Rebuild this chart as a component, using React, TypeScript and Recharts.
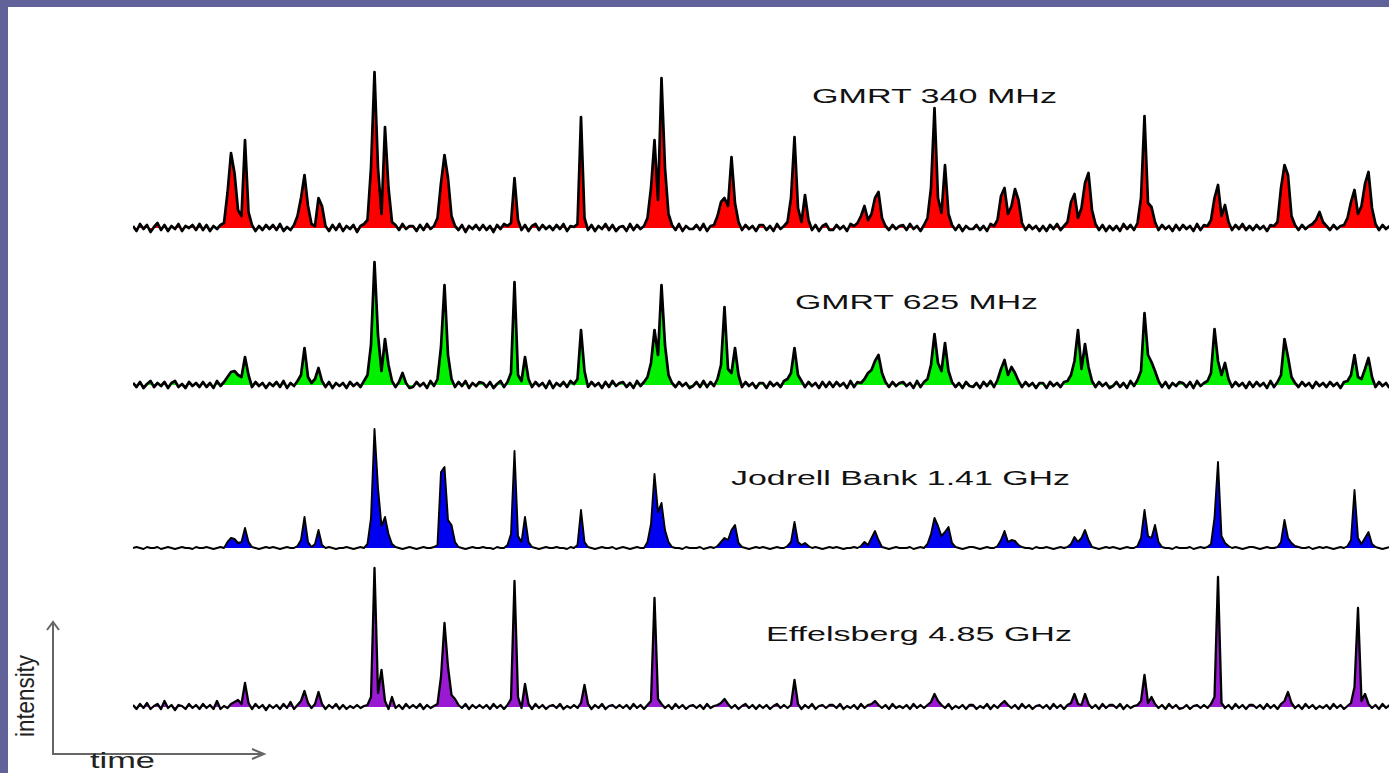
import React from 'react';
import { AreaChart, Area, XAxis, YAxis } from 'recharts';

// Single-pulse intensity, one row per pulse period, 20 samples per period.
// Values are in arbitrary intensity units above the off-pulse baseline.
const GMRT_340_ROWS: number[][] = [
  [2, -3, 4, -1, 3, -4, 1, 5, -2, 3, -3, 2, -1, 4, -3, 2, 0, 3, -2, 4],
  [-2, 3, -3, 2, -1, 3, 5, 35, 75, 55, 18, 12, 88, 16, 3, -3, 2, -2, 3, -1],
  [3, -2, 4, -3, 1, -2, 3, 12, 30, 53, 22, 4, 2, 30, 22, 2, -3, 3, -2, 4],
  [-3, 2, -1, 3, -4, 2, 4, 8, 60, 156, 60, 14, 101, 40, 6, 3, -2, 4, -1, 2],
  [2, -3, 3, -2, 4, -1, 2, 10, 45, 73, 50, 12, 2, -2, 3, -4, 2, -1, 3, -2],
  [3, -2, 2, -4, 3, -1, 4, 2, 5, 50, 8, -2, 3, -3, 2, 4, -2, 3, -1, 2],
  [-2, 3, -1, 4, -3, 2, 1, 4, 111, 10, -2, 3, -3, 2, -1, 4, -2, 3, -3, 1],
  [2, -3, 4, -2, 3, -1, 2, 10, 40, 88, 28, 150, 60, 14, 3, -2, 4, -3, 2, -1],
  [-1, 3, -2, 4, -3, 2, 3, 12, 26, 30, 22, 71, 25, 6, -2, 3, -1, 2, -3, 3],
  [3, -2, 2, -3, 4, -1, 2, 6, 30, 91, 20, 6, 33, 8, -2, 3, -3, 2, 4, -2],
  [-2, 3, -1, 2, -3, 4, 2, 5, 12, 22, 8, 14, 30, 36, 10, 2, -2, 3, -1, 2],
  [3, -2, 4, -1, 2, -3, 3, 10, 40, 120, 30, 15, 63, 14, 3, -2, 3, -3, 2, -1],
  [-1, 3, -2, 2, -3, 4, 2, 8, 32, 40, 14, 22, 39, 28, 5, -2, 3, -1, 2, -3],
  [2, -3, 3, -1, 4, -2, 2, 6, 26, 34, 10, 20, 45, 55, 18, 4, -2, 3, -3, 2],
  [-2, 2, -3, 4, -1, 3, -2, 5, 30, 112, 25, 21, 6, -2, 3, -1, 2, -3, 3, -2],
  [3, -1, 2, -3, 4, -2, 3, 2, 8, 30, 43, 12, 23, 6, -2, 3, -1, 4, -2, 2],
  [-2, 3, -1, 2, -3, 3, 2, 6, 40, 63, 53, 12, 3, -2, 3, -1, 2, 4, 8, 16],
  [6, 2, -2, 3, -1, 2, 3, 10, 26, 38, 14, 22, 44, 56, 20, 4, -2, 3, -1, 2],
];

const GMRT_625_ROWS: number[][] = [
  [2, -2, 3, -3, 1, 4, -2, 2, -1, 3, -3, 2, 4, -2, 1, -3, 3, -1, 2, -2],
  [3, -2, 2, -3, 4, -1, 3, 8, 13, 14, 10, 8, 28, 10, -2, 3, -1, 2, -3, 2],
  [-1, 3, -2, 4, -3, 2, -1, 4, 10, 37, 8, 2, 6, 17, 4, -2, 3, -3, 2, -1],
  [2, -3, 3, -1, 2, -2, 4, 10, 40, 123, 50, 14, 46, 20, 4, -2, 3, 12, 2, -3],
  [-2, 3, -1, 2, -3, 4, -1, 6, 38, 100, 30, 6, -2, 3, -1, 4, -3, 2, -1, 3],
  [2, -2, 3, -3, 1, 4, -2, 3, 12, 103, 10, 4, 28, 6, -2, 3, -1, 2, -3, 4],
  [-3, 2, -1, 3, -2, 4, 1, 6, 55, 14, -2, 3, -1, 2, -3, 3, -2, 4, -1, 2],
  [3, -2, 2, -3, 4, -1, 3, 8, 22, 55, 30, 100, 40, 10, 2, -2, 3, -1, 2, -3],
  [-1, 3, -2, 4, -2, 3, -1, 6, 20, 78, 16, 12, 37, 10, -2, 3, -1, 2, -3, 2],
  [2, -3, 3, -1, 2, -2, 4, 6, 12, 37, 10, 4, -2, 3, -1, 2, -3, 3, -2, 3],
  [-2, 3, -1, 2, -3, 4, -2, 3, 2, 6, 12, 15, 24, 30, 12, 3, -2, 3, -1, 2],
  [3, -1, 2, -3, 4, -2, 3, 6, 20, 51, 22, 14, 42, 14, 3, -2, 2, -3, 3, -1],
  [-2, 2, -3, 3, -1, 4, -2, 5, 16, 25, 10, 18, 12, 4, -2, 3, -1, 2, -3, 2],
  [2, -3, 3, -1, 2, -2, 3, 4, 10, 24, 55, 16, 41, 18, 4, -2, 3, -1, 2, -3],
  [-1, 3, -2, 2, -3, 4, -1, 5, 14, 72, 30, 23, 14, 4, -2, 3, -3, 2, -1, 3],
  [2, -2, 3, -3, 4, -1, 2, 4, 12, 56, 24, 10, 22, 6, -2, 3, -1, 2, -3, 3],
  [-2, 3, -1, 2, -3, 4, -2, 3, 10, 46, 28, 8, 2, -2, 3, -1, 2, -3, 3, -1],
  [2, -2, 3, -1, 2, -3, 3, 4, 10, 30, 8, 6, 16, 27, 8, -2, 3, -1, 2, -3],
];

const JODRELL_ROWS: number[][] = [
  [0, 1, 0, -1, 1, 0, 0, 1, -1, 0, 1, 0, -1, 0, 1, 0, 0, -1, 1, 0],
  [0, 1, 0, -1, 0, 1, 0, 6, 10, 9, 5, 6, 20, 6, 1, 0, -1, 0, 1, 0],
  [1, 0, -1, 0, 1, 0, 0, 2, 8, 31, 6, 1, 4, 18, 3, 0, 1, 0, -1, 0],
  [0, 1, 0, -1, 0, 1, 0, 4, 30, 119, 60, 22, 31, 14, 4, 1, 0, -1, 0, 1],
  [0, -1, 0, 1, 0, 0, 1, 3, 76, 81, 28, 23, 6, 1, 0, -1, 0, 1, 0, 0],
  [1, 0, 0, -1, 1, 0, 0, 3, 14, 97, 12, 6, 31, 6, 1, 0, -1, 0, 1, 0],
  [0, 1, 0, 0, -1, 1, 0, 3, 38, 6, 1, 0, -1, 0, 1, 0, 0, 1, -1, 0],
  [1, 0, -1, 0, 1, 0, 0, 6, 24, 74, 36, 45, 18, 6, 1, 0, 0, -1, 1, 0],
  [0, 0, 1, -1, 0, 1, 0, 2, 6, 10, 8, 18, 23, 5, 1, 0, -1, 0, 1, 0],
  [1, 0, -1, 0, 1, 0, 0, 2, 6, 26, 6, 3, 5, 2, 0, 1, 0, -1, 0, 1],
  [0, 1, 0, -1, 0, 0, 1, 0, 2, 6, 3, 10, 17, 8, 1, 0, -1, 0, 1, 0],
  [0, 0, 1, -1, 0, 1, 0, 4, 14, 30, 22, 12, 16, 21, 5, 1, 0, -1, 0, 1],
  [1, 0, -1, 0, 1, 0, 0, 2, 8, 17, 6, 8, 7, 3, 1, 0, 0, -1, 1, 0],
  [0, 1, 0, -1, 0, 1, 0, 1, 4, 11, 6, 10, 18, 8, 1, 0, -1, 0, 1, 0],
  [1, 0, -1, 0, 1, 0, 0, 2, 10, 38, 12, 10, 23, 6, 1, 0, 0, -1, 1, 0],
  [0, 0, 1, -1, 0, 1, 0, 1, 4, 30, 86, 12, 5, 2, 0, 1, 0, -1, 0, 1],
  [1, 0, -1, 0, 1, 0, 0, 1, 6, 28, 10, 5, 2, 1, 0, 0, 1, -1, 0, 1],
  [0, 1, 0, -1, 0, 1, 0, 2, 8, 58, 10, 4, 10, 16, 4, 1, 0, -1, 0, 1],
];

const EFFELSBERG_ROWS: number[][] = [
  [2, -2, 3, -1, 4, -2, 1, 3, -2, 6, -1, 2, -3, 2, 1, -2, 3, -1, 2, -2],
  [3, -1, 2, -2, 6, -2, 1, -1, 3, 5, 7, 3, 24, 4, -2, 3, -1, 2, -3, 2],
  [-1, 2, -2, 3, -1, 5, -2, 2, 6, 16, 4, -1, 3, 15, 3, -2, 2, -1, 3, -2],
  [2, -2, 1, -1, 2, -1, 1, 2, 10, 139, 14, 37, 6, -2, 10, -1, 2, -2, 3, -1],
  [2, -1, 3, -2, 2, -1, 1, 3, 30, 84, 40, 12, 8, 2, -1, 3, -2, 2, -1, 2],
  [-1, 2, -2, 3, -1, 2, -2, 2, 8, 126, 10, -1, 23, 3, -2, 3, -1, 2, -2, 1],
  [2, -1, 3, -2, 1, -1, 2, -1, 4, 22, 3, -2, 2, -1, 3, -2, 1, 2, -1, 2],
  [-1, 2, -2, 3, -1, 2, -2, 2, 6, 109, 8, 3, -1, 2, -2, 3, -1, 2, -2, 1],
  [2, -1, 2, -2, 3, -1, 1, 2, 4, 8, 3, -1, 2, -2, 1, 3, -1, 2, -2, 2],
  [-1, 2, -2, 1, 3, -1, 2, -1, 2, 27, 3, -2, 2, -1, 3, -2, 1, 2, -1, 2],
  [2, -1, 3, -2, 1, -1, 2, -2, 3, -1, 2, 3, 6, 2, -1, 2, -2, 3, -1, 1],
  [-1, 2, -2, 3, -1, 2, -1, 2, 5, 13, 6, 2, -1, 3, -2, 1, -1, 2, -2, 2],
  [2, -2, 1, -1, 3, -2, 2, -1, 3, 6, 2, -1, 2, -2, 3, -1, 2, -2, 1, 2],
  [-1, 2, -2, 3, -1, 2, -2, 2, 4, 13, 3, 2, 13, 3, -1, 2, -2, 3, -1, 2],
  [2, -1, 3, -2, 2, -1, 1, 2, 6, 32, 4, 10, 3, -1, 2, -2, 3, -1, 2, -2],
  [-1, 2, -2, 1, 2, -1, 2, -1, 3, 10, 130, 4, -1, 2, -2, 3, -1, 2, -2, 2],
  [2, -1, 2, -2, 3, -1, 2, -2, 3, 6, 15, 4, -1, 2, -2, 3, -1, 2, -2, 1],
  [-1, 2, -2, 3, -1, 2, -2, 1, 4, 20, 99, 6, 13, 3, -1, 2, -2, 3, -1, 2],
];

const BAND_LABELS = ['GMRT 340 MHz', 'GMRT 625 MHz', 'Jodrell Bank 1.41 GHz', 'Effelsberg 4.85 GHz'];
const AXIS_LABELS = ['intensity', 'time'];

const PERIODS = 18;

// flatten period rows into a time series, t measured in pulse periods
const toSeries = (rows: number[][]) =>
  rows.flatMap((row, k) => row.map((v, j) => ({ t: k + j / row.length, v })));

const PANELS = [
  { rows: GMRT_340_ROWS, fill: '#ff0000', baseline: 228, line: 2.7, label: { x: 812, y: 103, w: 245 } },
  { rows: GMRT_625_ROWS, fill: '#00f000', baseline: 385, line: 2.7, label: { x: 795, y: 309, w: 243 } },
  { rows: JODRELL_ROWS, fill: '#0000f0', baseline: 548, line: 1.9, label: { x: 731, y: 485, w: 339 } },
  { rows: EFFELSBERG_ROWS, fill: '#9a1ad4', baseline: 707, line: 2.3, label: { x: 766, y: 641, w: 306 } },
];

const CHART_LEFT = 133;
const CHART_W = 1260;
const TOP_UNITS = 160;
const BOTTOM_UNITS = 10;
const FRAME = '#62629b';

const Trace: React.FC<{ rows: number[][]; fill: string; baseline: number; line: number }> = ({ rows, fill, baseline, line }) => (
  <div style={{ position: 'absolute', left: CHART_LEFT, top: baseline - TOP_UNITS }}>
    <AreaChart width={CHART_W} height={TOP_UNITS + BOTTOM_UNITS} data={toSeries(rows)} margin={{ top: 0, right: 0, bottom: 0, left: 0 }}>
      <XAxis dataKey="t" type="number" domain={[0, PERIODS]} hide />
      <YAxis type="number" domain={[-BOTTOM_UNITS, TOP_UNITS]} allowDataOverflow hide />
      <Area
        type="linear"
        dataKey="v"
        baseValue={0}
        stroke="#000"
        strokeWidth={line}
        strokeLinejoin="round"
        fill={fill}
        fillOpacity={1}
        dot={false}
        activeDot={false}
        isAnimationActive={false}
      />
    </AreaChart>
  </div>
);

export default function App() {
  return (
    <div style={{ position: 'fixed', left: 0, top: 0, width: 1389, height: 773, overflow: 'hidden', background: '#fff' }}>
      <div style={{ position: 'absolute', left: 0, top: 0, width: 1389, height: 7, background: FRAME }} />
      <div style={{ position: 'absolute', left: 0, top: 0, width: 8, height: 773, background: FRAME }} />

      {PANELS.map((p, i) => (
        <Trace key={i} rows={p.rows} fill={p.fill} baseline={p.baseline} line={p.line} />
      ))}

      <svg width={1389} height={773} style={{ position: 'absolute', left: 0, top: 0, pointerEvents: 'none' }}>
        {PANELS.map((p, i) => (
          <text
            key={i}
            x={p.label.x}
            y={p.label.y}
            textLength={p.label.w}
            lengthAdjust="spacingAndGlyphs"
            fontFamily="'Liberation Sans', Arial, sans-serif"
            fontSize={21}
            fill="#111"
          >
            {BAND_LABELS[i]}
          </text>
        ))}

        {/* intensity / time key */}
        <g stroke="#666" strokeWidth={2} fill="none">
          <polyline points="53,623 53,754 264,754" />
          <polyline points="47,630 53,622 59,630" />
          <polyline points="252,749 264,754 252,759" />
        </g>
        <text
          transform="translate(34,696) rotate(-90)"
          textAnchor="middle"
          textLength={82}
          lengthAdjust="spacingAndGlyphs"
          fontFamily="'Liberation Sans Narrow', 'Liberation Sans', Arial, sans-serif"
          fontSize={25}
          fill="#222"
        >
          {AXIS_LABELS[0]}
        </text>
        <text
          x={90}
          y={768}
          textLength={65}
          lengthAdjust="spacingAndGlyphs"
          fontFamily="'Liberation Sans Narrow', 'Liberation Sans', Arial, sans-serif"
          fontSize={22}
          fill="#222"
        >
          {AXIS_LABELS[1]}
        </text>
      </svg>
    </div>
  );
}
